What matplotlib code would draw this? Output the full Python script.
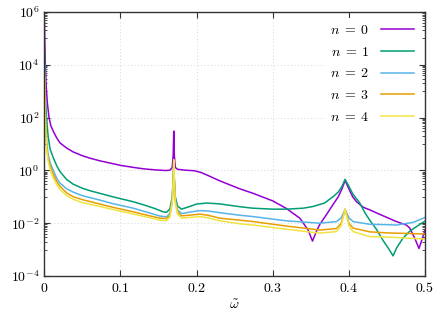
import numpy as np
import matplotlib
matplotlib.use('Agg')
import matplotlib.pyplot as plt
from matplotlib.ticker import FixedLocator, FuncFormatter, NullFormatter

# Valores (frecuencia reducida y amplitud) para cada n
w0 = [0.0002, 0.0006, 0.0013, 0.0025, 0.004, 0.0062, 0.0085, 0.0118, 0.0163, 0.0206,
      0.0294, 0.038, 0.05, 0.06, 0.0731, 0.09, 0.1, 0.1168, 0.13, 0.145, 0.16, 0.165,
      0.168, 0.1693, 0.17, 0.1707, 0.172, 0.175, 0.185, 0.197, 0.205, 0.213, 0.2306,
      0.2568, 0.2743, 0.3, 0.318, 0.3356, 0.3465, 0.3522, 0.3575, 0.3618, 0.37, 0.378,
      0.386, 0.391, 0.395, 0.4, 0.405, 0.41, 0.419, 0.4274, 0.44, 0.449, 0.4625, 0.4756,
      0.48, 0.4865, 0.4921, 0.4966, 0.5]
y0 = [4e5, 8e4, 1e4, 1.5e3, 350, 100, 50, 30, 17, 11,
      7, 5, 3.6, 2.9, 2.3, 1.8, 1.55, 1.3, 1.15, 1.05, 0.99, 1.02,
      1.3, 4, 31, 4, 1.3, 1.1, 1.02, 0.97, 0.85, 0.68, 0.4,
      0.2, 0.135, 0.07, 0.036, 0.0155, 0.0055, 0.0021, 0.005, 0.009, 0.02, 0.045,
      0.1, 0.2, 0.42, 0.2, 0.1, 0.065, 0.04, 0.032, 0.022, 0.017, 0.0115, 0.0085,
      0.0065, 0.0027, 0.0011, 0.0027, 0.0055]

w1 = [0.0003, 0.0008, 0.0015, 0.0031, 0.005, 0.0075, 0.0118, 0.0163, 0.0206, 0.0294,
      0.038, 0.05, 0.06, 0.0731, 0.09, 0.1, 0.1168, 0.13, 0.145, 0.156, 0.1606, 0.165,
      0.168, 0.1693, 0.17, 0.1707, 0.172, 0.175, 0.18, 0.19, 0.2, 0.213, 0.23, 0.257,
      0.274, 0.3, 0.318, 0.34, 0.353, 0.368, 0.379, 0.386, 0.391, 0.395, 0.4, 0.405,
      0.414, 0.421, 0.4274, 0.436, 0.445, 0.452, 0.458, 0.463, 0.471, 0.48, 0.489, 0.5]
y1 = [3e4, 3e3, 500, 80, 20, 6.5, 3.0, 1.5, 0.9, 0.45,
      0.3, 0.21, 0.17, 0.135, 0.1, 0.085, 0.065, 0.05, 0.036, 0.027, 0.026, 0.035,
      0.1, 0.5, 2.5, 0.5, 0.1, 0.045, 0.034, 0.042, 0.053, 0.058, 0.054, 0.042,
      0.037, 0.034, 0.034, 0.037, 0.043, 0.058, 0.1, 0.15, 0.25, 0.46, 0.25, 0.13,
      0.06, 0.025, 0.013, 0.006, 0.0022, 0.0011, 0.00058, 0.0012, 0.0027, 0.005, 0.0075, 0.012]

w2 = [0.0003, 0.0008, 0.0015, 0.0031, 0.005, 0.0075, 0.0118, 0.0163, 0.0206, 0.0294,
      0.038, 0.05, 0.0731, 0.09, 0.1168, 0.135, 0.1519, 0.1606, 0.165, 0.168, 0.1693,
      0.17, 0.1707, 0.172, 0.175, 0.1803, 0.19, 0.2043, 0.215, 0.2306, 0.2568, 0.2743,
      0.318, 0.3618, 0.3837, 0.39, 0.395, 0.4, 0.4055, 0.4274, 0.4493, 0.4625, 0.4756,
      0.4843, 0.5]
y2 = [1e4, 1e3, 150, 11, 4, 2.0, 1.0, 0.5, 0.33, 0.2,
      0.15, 0.11, 0.075, 0.055, 0.037, 0.026, 0.0186, 0.0175, 0.024, 0.08, 0.45,
      2.5, 0.45, 0.08, 0.032, 0.023, 0.026, 0.03, 0.029, 0.025, 0.02, 0.0178,
      0.0123, 0.01, 0.0115, 0.016, 0.033, 0.016, 0.0115, 0.0091, 0.0088, 0.0085, 0.0098,
      0.0107, 0.0165]

w3 = [0.0003, 0.0008, 0.0015, 0.0031, 0.005, 0.0075, 0.0118, 0.0163, 0.0206, 0.0294,
      0.038, 0.05, 0.0731, 0.09, 0.1168, 0.135, 0.1519, 0.1606, 0.165, 0.168, 0.1693,
      0.17, 0.1707, 0.172, 0.175, 0.1803, 0.19, 0.2043, 0.215, 0.2306, 0.2568, 0.2743,
      0.318, 0.3618, 0.3837, 0.39, 0.395, 0.4, 0.4055, 0.4274, 0.4493, 0.5]
y3 = [5e3, 600, 90, 8, 3, 1.5, 0.7, 0.38, 0.25, 0.14,
      0.1, 0.078, 0.053, 0.04, 0.027, 0.02, 0.0155, 0.015, 0.02, 0.07, 0.4,
      2.5, 0.4, 0.07, 0.027, 0.019, 0.02, 0.022, 0.02, 0.0155, 0.013, 0.0115,
      0.0078, 0.0055, 0.0063, 0.01, 0.034, 0.01, 0.0065, 0.0047, 0.0043, 0.0039]

w4 = [0.0003, 0.0008, 0.0015, 0.0031, 0.005, 0.0075, 0.0118, 0.0163, 0.0206, 0.0294,
      0.038, 0.05, 0.0731, 0.09, 0.1168, 0.135, 0.1519, 0.1606, 0.165, 0.168, 0.1693,
      0.17, 0.1707, 0.172, 0.175, 0.1803, 0.19, 0.2043, 0.215, 0.2306, 0.2568, 0.2743,
      0.318, 0.3618, 0.3837, 0.39, 0.395, 0.4, 0.4055, 0.4274, 0.4493, 0.5]
y4 = [3e3, 400, 60, 6, 2.3, 1.1, 0.5, 0.29, 0.19, 0.11,
      0.08, 0.06, 0.043, 0.033, 0.0224, 0.017, 0.013, 0.0125, 0.017, 0.06, 0.38,
      2.5, 0.38, 0.06, 0.022, 0.0155, 0.0165, 0.0178, 0.016, 0.0123, 0.0095, 0.0085,
      0.0059, 0.0042, 0.0048, 0.008, 0.034, 0.008, 0.0048, 0.0031, 0.003, 0.0025]

series = [(w0, y0), (w1, y1), (w2, y2), (w3, y3), (w4, y4)]
labels = [r'$n\;=\;0$', r'$n\;=\;1$', r'$n\;=\;2$', r'$n\;=\;3$', r'$n\;=\;4$']
colores = ['#9400d3', '#009e73', '#56b4e9', '#e69f00', '#f0e442']

# Estilo tipo LaTeX
plt.rcParams['mathtext.fontset'] = 'cm'
plt.rcParams['font.family'] = 'serif'
plt.rcParams['font.serif'] = ['DejaVu Serif']

fig = plt.figure(figsize=(4.45, 3.12), dpi=100)
ax = fig.add_axes([0.0996, 0.1154, 0.8555, 0.8461])

for (w, y), lab, c in zip(series, labels, colores):
    ax.plot(w, y, color=c, lw=1.1, label=lab)

ax.set_yscale('log')
ax.set_xlim(0, 0.5)
ax.set_ylim(1e-4, 1e6)

# Ticks
ax.yaxis.set_major_locator(FixedLocator([10.0 ** k for k in range(-4, 7, 2)]))
menores = [m * 10.0 ** k for k in range(-3, 7, 2) for m in range(1, 10)]
ax.yaxis.set_minor_locator(FixedLocator(menores))
ax.yaxis.set_minor_formatter(NullFormatter())
ax.yaxis.set_major_formatter(FuncFormatter(lambda v, p: r'$10^{%d}$' % round(np.log10(v))))
xt = [0, 0.1, 0.2, 0.3, 0.4, 0.5]
ax.xaxis.set_major_locator(FixedLocator(xt))
ax.xaxis.set_major_formatter(FuncFormatter(lambda v, p: '$0$' if v == 0 else r'$%g$' % v))
ax.tick_params(which='both', direction='in', top=True, right=True, labelsize=10, color='#333333')
ax.tick_params(which='major', length=4, width=0.8)
ax.tick_params(which='minor', length=2, width=0.6)
for s in ax.spines.values():
    s.set_color('#333333')
    s.set_linewidth(1.0)

ax.grid(True, which='major', ls=(0, (1, 3)), color='#c8c8c8', lw=0.6)
ax.set_xlabel(r'$\tilde{\omega}$', fontsize=10, labelpad=2)

ax.legend(loc='upper right', markerfirst=False, frameon=True, facecolor='white',
          edgecolor='none', framealpha=1, fancybox=False, fontsize=10,
          handlelength=2.35, handletextpad=0.85, labelspacing=0.55, borderaxespad=0.4)

fig.savefig('out.png', dpi=100)
